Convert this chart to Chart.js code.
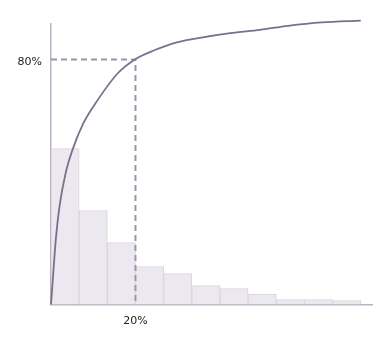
<!DOCTYPE html>
<html>
<head>
<meta charset="utf-8">
<script src="https://cdn.jsdelivr.net/npm/chart.js@4/dist/chart.umd.min.js"></script>
<style>
  html, body { margin: 0; padding: 0; background: #fff; }
  #wrap { width: 392px; height: 353px; }
</style>
</head>
<body>
<div id="wrap"><canvas id="pareto"></canvas></div>
<script>
// bar values (one per cause, sorted), positions are category centres
const barX = [0.5, 1.5, 2.5, 3.5, 4.5, 5.5, 6.5, 7.5, 8.5, 9.5, 10.5];
const barValues = [50.9, 30.7, 20.2, 12.4, 10.1, 6.2, 5.2, 3.3, 1.6, 1.6, 1.3];

// cumulative curve
const curveX = [0, 0.08, 0.17, 0.30, 0.52, 0.76, 1.15, 1.5, 2.38, 3.01, 3.69, 4.34, 5.18, 6.36, 7.42, 8.42, 9.62, 11.0];
const curveY = [0, 10.3, 21.1, 31.9, 42.9, 50.4, 59.2, 64.6, 75.6, 80.2, 83.1, 85.3, 86.9, 88.6, 89.7, 91.0, 92.1, 92.7];

// 80/20 marker
const markX = 3;
const markY = 80;
const xTickLabels = { 3: '20%' };
const yTickLabels = { 80: '80%' };

const purple = '#7b6f8c';
const dashColor = '#9d94a9';
const axisColor = '#b9b3c1';

const ctx = document.getElementById('pareto').getContext('2d');
new Chart(ctx, {
  data: {
    datasets: [
      {
        type: 'line',
        data: curveX.map((x, i) => ({ x: x, y: curveY[i] })),
        borderColor: purple,
        borderWidth: 1.8,
        pointRadius: 0,
        cubicInterpolationMode: 'monotone',
        fill: false,
        clip: false,
        order: 0
      },
      {
        type: 'line',
        data: [{ x: 0, y: markY }, { x: markX, y: markY }, { x: markX, y: 0 }],
        borderColor: dashColor,
        borderWidth: 2,
        borderDash: [6, 4],
        pointRadius: 0,
        tension: 0,
        fill: false,
        order: 1
      },
      {
        type: 'bar',
        data: barX.map((x, i) => ({ x: x, y: barValues[i] })),
        backgroundColor: '#ebe8ef',
        borderColor: '#d9d4de',
        borderWidth: 1,
        barPercentage: 1,
        categoryPercentage: 1,
        order: 2
      }
    ]
  },
  options: {
    responsive: true,
    maintainAspectRatio: false,
    animation: false,
    layout: { padding: { top: 24, right: 20, left: 0, bottom: 0 } },
    plugins: {
      legend: { display: false },
      title: { display: false },
      tooltip: { enabled: false }
    },
    scales: {
      x: {
        type: 'linear',
        min: 0,
        max: 11.4,
        offset: false,
        bounds: 'ticks',
        grid: { display: false, drawTicks: false },
        border: { display: true, color: axisColor, width: 1.5 },
        afterDataLimits: (s) => { s.min = 0; s.max = 11.4; },
        afterBuildTicks: (s) => { s.ticks = [{ value: markX }]; },
        afterFit: (s) => { s.height = 48.5; },
        ticks: {
          padding: 10,
          color: '#222',
          font: { family: 'DejaVu Sans', size: 11 },
          callback: (v) => xTickLabels[v] || ''
        }
      },
      y: {
        type: 'linear',
        min: 0,
        max: 91.6,
        grid: { display: false, drawTicks: false },
        border: { display: true, color: axisColor, width: 1.5 },
        afterBuildTicks: (s) => { s.ticks = [{ value: markY }]; },
        afterFit: (s) => { s.width = 51; },
        ticks: {
          padding: 9,
          labelOffset: 2.5,
          color: '#222',
          font: { family: 'DejaVu Sans', size: 11 },
          callback: (v) => yTickLabels[v] || ''
        }
      }
    }
  }
});
</script>
</body>
</html>
